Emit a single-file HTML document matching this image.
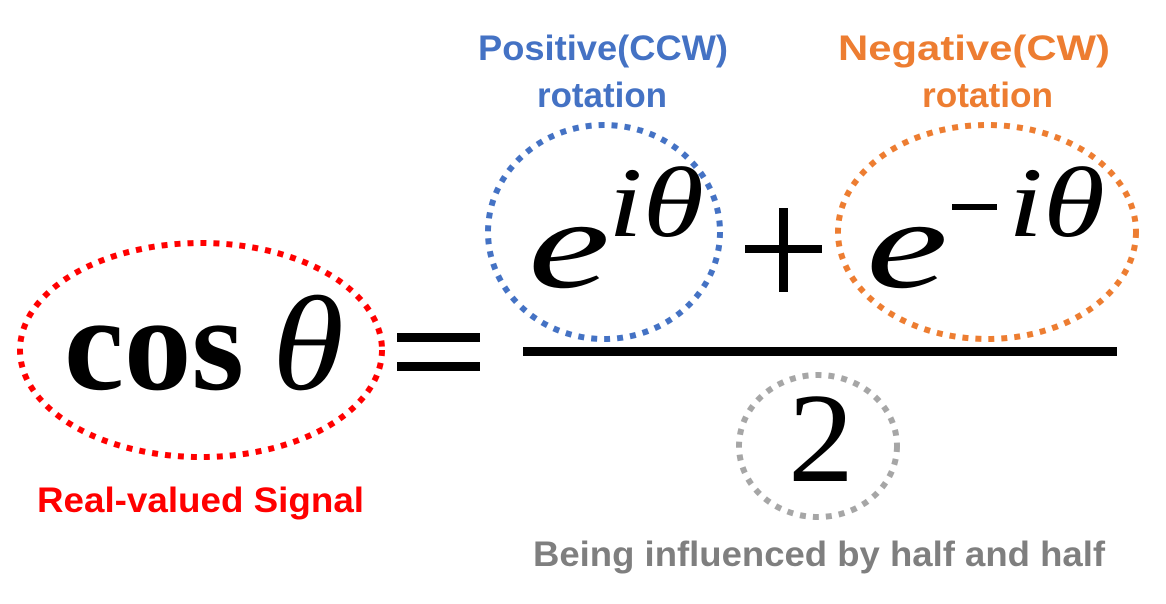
<!DOCTYPE html>
<html><head><meta charset="utf-8"><style>
html,body{margin:0;padding:0;background:#fff;width:1166px;height:604px;overflow:hidden}
svg{display:block}
.lbl{font-family:"Liberation Sans",sans-serif;font-size:35px;font-weight:bold}
.m{font-family:"Liberation Serif",serif;fill:#000}
</style></head><body>
<svg width="1166" height="604" viewBox="0 0 1166 604">
<ellipse cx="201" cy="350" rx="181" ry="107" fill="none" stroke="#ff0000" stroke-width="6" stroke-dasharray="6 7"/>
<ellipse cx="604" cy="232" rx="116" ry="107" fill="none" stroke="#4472c4" stroke-width="6" stroke-dasharray="6 7"/>
<ellipse cx="987" cy="232" rx="149" ry="107" fill="none" stroke="#ed7d31" stroke-width="6" stroke-dasharray="6 7"/>
<ellipse cx="818" cy="446" rx="79" ry="71" fill="none" stroke="#a6a6a6" stroke-width="6" stroke-dasharray="6 7"/>

<text class="m" x="64" y="389" font-size="135" font-weight="bold" textLength="180" lengthAdjust="spacingAndGlyphs">cos</text>
<text class="m" x="272" y="389" font-size="135" font-style="italic" textLength="72" lengthAdjust="spacingAndGlyphs">θ</text>
<rect x="397" y="333" width="83" height="9" fill="#000"/>
<rect x="397" y="362" width="83" height="9" fill="#000"/>

<text class="m" x="528" y="287" font-size="128" font-style="italic" textLength="82" lengthAdjust="spacingAndGlyphs">e</text>
<text class="m" x="608" y="236" font-size="100" font-style="italic" textLength="96" lengthAdjust="spacingAndGlyphs">iθ</text>
<rect x="745" y="245" width="77" height="8" fill="#000"/>
<rect x="779" y="208" width="9" height="84" fill="#000"/>
<text class="m" x="866" y="287" font-size="128" font-style="italic" textLength="82" lengthAdjust="spacingAndGlyphs">e</text>
<rect x="952" y="204" width="45" height="6" fill="#000"/>
<text class="m" x="1008" y="236" font-size="100" font-style="italic" textLength="97" lengthAdjust="spacingAndGlyphs">iθ</text>
<rect x="523" y="347" width="594" height="9" fill="#000"/>
<text class="m" x="788" y="481" font-size="128" textLength="66" lengthAdjust="spacingAndGlyphs">2</text>

<text class="lbl" x="478" y="60" fill="#4472c4" textLength="250" lengthAdjust="spacingAndGlyphs">Positive(CCW)</text>
<text class="lbl" x="537" y="107" fill="#4472c4" textLength="130" lengthAdjust="spacingAndGlyphs">rotation</text>
<text class="lbl" x="838" y="60" fill="#ed7d31" textLength="272" lengthAdjust="spacingAndGlyphs">Negative(CW)</text>
<text class="lbl" x="922" y="107" fill="#ed7d31" textLength="131" lengthAdjust="spacingAndGlyphs">rotation</text>
<text class="lbl" x="37" y="512" fill="#ff0000" textLength="327" lengthAdjust="spacingAndGlyphs">Real-valued Signal</text>
<text class="lbl" x="533" y="566" fill="#7f7f7f" textLength="572" lengthAdjust="spacingAndGlyphs">Being influenced by half and half</text>
</svg>
</body></html>
